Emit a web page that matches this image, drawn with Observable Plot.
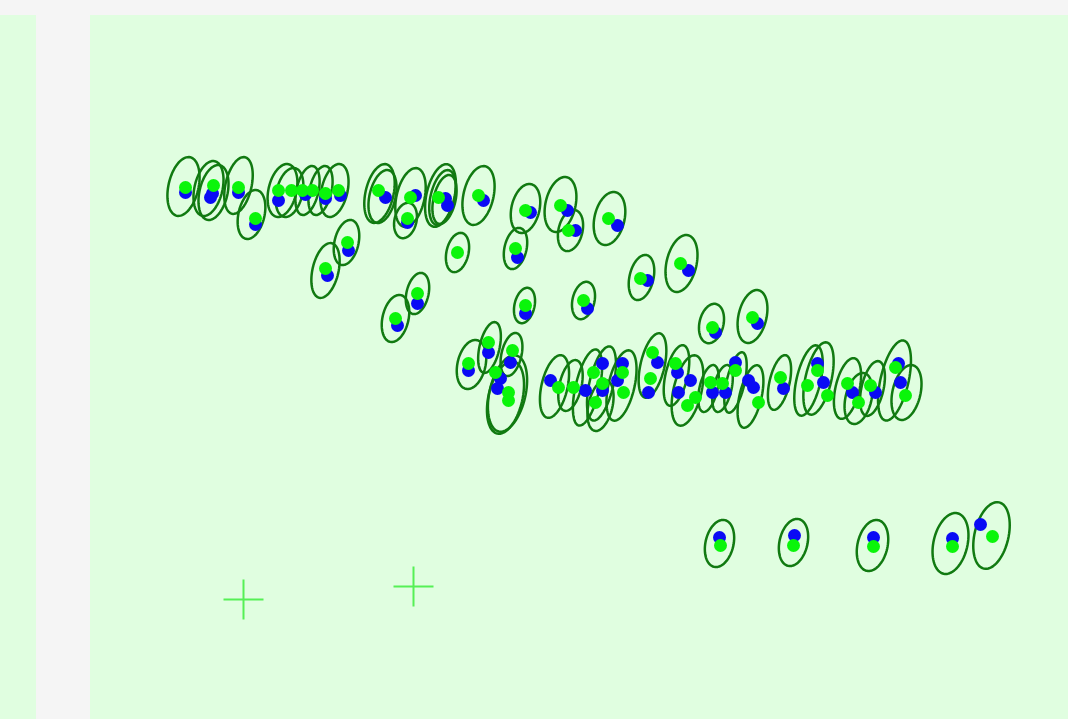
<!DOCTYPE html>
<html><head><meta charset="utf-8">
<script src="https://cdn.jsdelivr.net/npm/d3@7"></script>
<script src="https://cdn.jsdelivr.net/npm/@observablehq/plot@0.6"></script>
<style>html,body{margin:0;padding:0;background:#f5f5f5;overflow:hidden}</style>
</head><body><div id="chart"></div>
<script>
// Panel extents [x1, x2, y1, y2]
const panels = [[0, 36, 15, 719], [90, 1068, 15, 719]];

// Ellipses: [cx, cy, semi-axis a (across), semi-axis b (along)]
const ellipses = [
  [183,186,15,30],[208,188,14,28],[213,192,14,28],[238,185,13,29],[251,214,13,25],
  [282,190,14,27],[289,192,13,25],[307,190,11,25],[320,190,11,25],[334,190,13,27],
  [379,193,14,30],[382,196,13,27],[410,197,14,30],[405,220,11,18],[440,195,14,32],
  [442,197,12,28],[444,199,11,25],[478,195,15,30],[525,208,14,25],[560,204,15,28],
  [570,230,12,21],[609,218,15,27],[457,252,11,20],[346,242,12,23],[325,270,13,28],
  [417,293,11,21],[395,318,13,24],[515,248,11,21],[524,305,10,18],[583,300,11,19],
  [641,277,12,23],[681,263,15,29],[711,323,12,20],[752,316,14,27],
  [471,364,14,25],[489,347,10,26],[511,354,10,22],[507,393,18,39],[505,397,17,37],
  [554,386,13,32],[570,385,11,26],[587,387,12,39],[601,383,12,38],[600,405,12,26],
  [621,385,13,36],[652,365,12,33],[676,375,11,31],[687,390,14,36],[708,388,9,24],
  [722,388,9,24],[735,382,9,31],[750,396,11,32],[779,382,10,28],[808,380,12,36],
  [818,378,13,37],[847,388,12,31],[858,398,13,26],[872,388,11,28],[894,380,14,41],
  [906,392,14,28],
  [719,543,14,24],[793,542,14,24],[872,545,15,26],[950,543,17,31],[991,535,17,34]
];

// Green points [x, y]
const greenDots = [
  [185,187],[213,185],[238,187],[255,218],[278,190],[291,190],[302,190],[312,190],[325,193],[338,190],
  [378,190],[410,197],[407,218],[438,197],[478,195],[525,210],[560,205],[568,230],[608,218],[457,252],
  [347,242],[325,268],[417,293],[395,318],[515,248],[525,305],[583,300],[640,278],[680,263],[712,327],[752,317],
  [468,363],[488,342],[512,350],[495,372],[508,392],[508,400],[558,387],[573,387],[593,372],[595,402],
  [602,383],[622,372],[623,392],[652,352],[650,378],[675,363],[695,397],[687,405],[710,382],[722,383],
  [735,370],[758,402],[780,377],[807,385],[817,370],[827,395],[847,383],[858,402],[870,385],[895,367],[905,395],
  [720,545],[793,545],[873,546],[952,546],[992,536]
];

// Blue points [x, y]
const blueDots = [
  [185,192],[212,193],[210,197],[238,192],[255,224],[278,200],[305,194],[325,198],[340,195],
  [385,197],[415,195],[407,222],[447,205],[445,198],[483,200],[530,212],[567,210],[575,230],[617,225],[517,257],
  [348,250],[327,275],[417,303],[397,325],[525,313],[587,308],[647,280],[688,270],[715,332],[757,323],
  [468,370],[488,352],[510,362],[500,378],[497,388],[550,380],[585,390],[602,363],[602,390],[622,363],
  [617,380],[657,362],[648,392],[677,372],[690,380],[678,392],[712,392],[725,392],[735,362],[748,380],
  [753,387],[783,388],[817,363],[823,382],[852,392],[875,392],[898,363],[900,382],
  [719,537],[794,535],[873,537],[952,538],[980,524]
];

// Cross markers [x, y]
const crosses = [[243,599],[413,586]];

const TILT = 13 * Math.PI / 180;
const N = 72;
const outline = ellipses.flatMap(([cx, cy, a, b], i) =>
  d3.range(N).map(k => {
    const t = 2 * Math.PI * k / N;
    return {
      id: i,
      x: cx + a * Math.cos(t) * Math.cos(TILT) - b * Math.sin(t) * Math.sin(TILT),
      y: cy + a * Math.cos(t) * Math.sin(TILT) + b * Math.sin(t) * Math.cos(TILT)
    };
  })
);

const crossSymbol = {
  draw(ctx, size) {
    const r = Math.sqrt(size / Math.PI);
    ctx.moveTo(-r, 0); ctx.lineTo(r, 0);
    ctx.moveTo(0, -r); ctx.lineTo(0, r);
  }
};

const chart = Plot.plot({
  width: 1068,
  height: 719,
  margin: 0,
  x: {domain: [0, 1068], range: [0, 1068], axis: null},
  y: {domain: [0, 719], range: [0, 719], axis: null},
  style: {background: "#f5f5f5"},
  marks: [
    Plot.rect(panels, {x1: d => d[0], x2: d => d[1], y1: d => d[2], y2: d => d[3], fill: "#e0fee0"}),
    Plot.dot(crosses, {x: d => d[0], y: d => d[1], r: 20, symbol: crossSymbol, fill: "none", stroke: "#55f055", strokeWidth: 2}),
    Plot.line(outline, {x: "x", y: "y", z: "id", curve: "linear-closed", stroke: "#117a11", strokeWidth: 2.5}),
    Plot.dot(blueDots, {x: d => d[0], y: d => d[1], r: 6.5, fill: "#0a0af5", stroke: "none"}),
    Plot.dot(greenDots, {x: d => d[0], y: d => d[1], r: 6.5, fill: "#0af50a", stroke: "none"})
  ]
});
document.getElementById("chart").appendChild(chart);
</script>
</body></html>
